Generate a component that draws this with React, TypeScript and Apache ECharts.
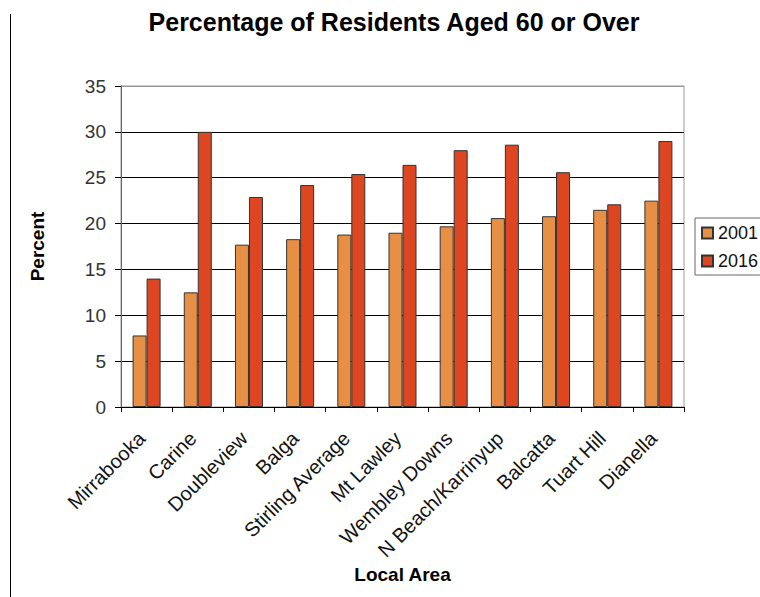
import React, { useEffect, useRef } from "react";
import * as echarts from "echarts";

const categories = [
  "Mirrabooka",
  "Carine",
  "Doubleview",
  "Balga",
  "Stirling Average",
  "Mt Lawley",
  "Wembley Downs",
  "N Beach/Karrinyup",
  "Balcatta",
  "Tuart Hill",
  "Dianella",
];
const values2001 = [7.8, 12.5, 17.7, 18.3, 18.8, 19.0, 19.7, 20.6, 20.8, 21.5, 22.5];
const values2016 = [14.0, 30.0, 22.9, 24.2, 25.4, 26.4, 28.0, 28.6, 25.6, 22.1, 29.0];
const seriesNames = ["2001", "2016"];

const FONT = "'Liberation Sans', Arial, sans-serif";

export default function App() {
  const ref = useRef<HTMLDivElement>(null);
  useEffect(() => {
    if (!ref.current) return;
    const chart = echarts.init(ref.current, undefined, { renderer: "svg" });
    chart.setOption({
      animation: false,
      backgroundColor: "#ffffff",
      textStyle: { fontFamily: FONT },
      title: {
        text: "Percentage of Residents Aged 60 or Over",
        left: 389,
        textAlign: "center",
        top: 4,
        textStyle: { fontFamily: FONT, fontSize: 25, fontWeight: "bold", color: "#000" },
      },
      legend: {
        orient: "vertical",
        left: 695,
        top: 218,
        padding: [6, 30, 5, 6],
        itemGap: 10,
        itemWidth: 11,
        itemHeight: 11,
        itemTextGap: 5,
        icon: "rect",
        borderColor: "#666",
        borderWidth: 1,
        textStyle: { fontFamily: FONT, fontSize: 18, color: "#111", lineHeight: 18, padding: [0, 0, 0, 0] },
        data: seriesNames,
      },
      grid: {
        left: 121,
        right: 76,
        top: 86,
        bottom: 190,
        show: true,
        borderColor: "#999",
        borderWidth: 1,
        containLabel: false,
      },
      xAxis: {
        type: "category",
        data: categories,
        name: "Local Area",
        nameLocation: "middle",
        nameGap: 158,
        nameMoveOverlap: false,
        nameTextStyle: { fontFamily: FONT, fontSize: 19, fontWeight: "bold", color: "#000" },
        axisLine: { lineStyle: { color: "#000", width: 1 } },
        axisTick: { show: true, length: 5, lineStyle: { color: "#000" } },
        axisLabel: {
          rotate: 45,
          interval: 0,
          margin: 23,
          padding: [0, 7, 0, 0],
          fontFamily: FONT,
          fontSize: 20,
          color: "#111",
        },
      },
      yAxis: {
        type: "value",
        min: 0,
        max: 35,
        interval: 5,
        name: "Percent",
        nameLocation: "middle",
        nameGap: 74,
        nameMoveOverlap: false,
        nameTextStyle: { fontFamily: FONT, fontSize: 19, fontWeight: "bold", color: "#000" },
        axisLine: { show: true, lineStyle: { color: "#666", width: 1 } },
        axisTick: { show: true, length: 6, lineStyle: { color: "#000" } },
        axisLabel: { margin: 15, fontFamily: FONT, fontSize: 19, color: "#333" },
        splitLine: {
          show: true,
          lineStyle: {
            color: ["#000", "#000", "#000", "#000", "#000", "#000", "#000", "#999"],
            width: 1,
          },
        },
      },
      graphic: [
        {
          type: "line",
          shape: { x1: 10.5, y1: 14, x2: 10.5, y2: 597 },
          style: { stroke: "#000", lineWidth: 1 },
        },
      ],
      series: [
        {
          name: seriesNames[0],
          type: "bar",
          data: values2001,
          barWidth: 14,
          barGap: "0%",
          itemStyle: { color: "#E68F45", borderColor: "#333", borderWidth: 1 },
        },
        {
          name: seriesNames[1],
          type: "bar",
          data: values2016,
          barWidth: 14,
          barGap: "0%",
          itemStyle: { color: "#DD4620", borderColor: "#333", borderWidth: 1 },
        },
      ],
    });
    return () => chart.dispose();
  }, []);
  return (
    <div
      ref={ref}
      style={{ position: "fixed", left: 0, top: 0, width: 760, height: 597 }}
    />
  );
}
